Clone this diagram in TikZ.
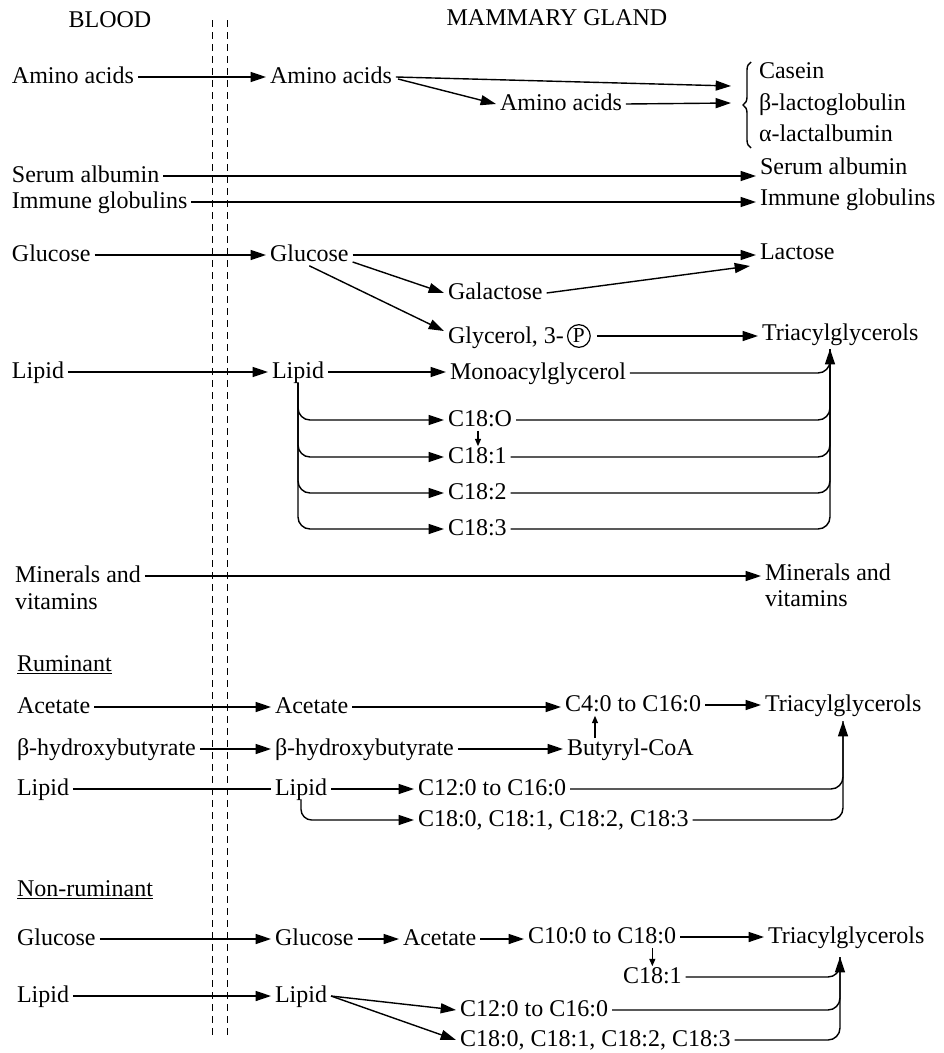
\documentclass[tikz,border=0pt]{standalone}
\usepackage{fontspec}
\setmainfont{Liberation Serif}
\usetikzlibrary{arrows.meta,calc,decorations.pathreplacing}
\begin{document}
\begin{tikzpicture}[x=0.75pt,y=-0.75pt,
  lbl/.style={anchor=west, inner xsep=3pt, inner ysep=0pt, outer sep=0pt,
    text height=12.6pt, text depth=3.6pt, font=\fontsize{18}{22}\selectfont},
  con/.style={line width=1.05pt},
  arr/.style={con, -{Triangle[length=11.5pt,width=7.5pt]}},
  tick/.style={line width=0.9pt, -{Triangle[length=5.5pt,width=4.5pt]}},
  rnd/.style={rounded corners=9pt},
  membrane/.style={line width=0.6pt, dash pattern=on 5pt off 4pt}]
\useasboundingbox (0,0) rectangle (943,1053);

% column headings and the cell membrane
\node[lbl, anchor=center] (hblood) at (110,21) {BLOOD};
\node[lbl, anchor=center] (hmg) at (557,20) {MAMMARY GLAND};
\draw[membrane] (212,20) -- (212,1035);
\draw[membrane] (227,20) -- (227,1035);

% proteins
\node[lbl] (aa1) at (8,77) {Amino acids};
\node[lbl] (aa2) at (266,77) {Amino acids};
\node[lbl] (aa3) at (496,104) {Amino acids};
\node[lbl] (cas) at (755,72) {Casein};
\node[lbl] (blg) at (755,104) {β-lactoglobulin};
\node[lbl] (alb) at (755,135) {α-lactalbumin};
\coordinate (pin1) at (731,86);
\coordinate (pin2) at (731,103);
\draw[arr] (aa1) -- (aa2);
\draw[arr] (aa2.east) -- (pin1);
\draw[arr] ($(aa2.east)+(2,2)$) -- (aa3.west);
\draw[arr] (aa3.east) -- (pin2);
\draw[con, decorate, decoration={brace, amplitude=6pt}] (751,148) -- (751,62);

\node[lbl] (sa1) at (8,176) {Serum albumin};
\node[lbl] (sa2) at (756,168) {Serum albumin};
\draw[arr] (sa1.east) -- (sa1.east -| sa2.west);
\node[lbl] (ig1) at (8,202) {Immune globulins};
\node[lbl] (ig2) at (756,199) {Immune globulins};
\draw[arr] (ig1.east) -- (ig1.east -| ig2.west);

% glucose
\node[lbl] (gl1) at (8,255) {Glucose};
\node[lbl] (gl2) at (266,255) {Glucose};
\node[lbl] (lac) at (756,253) {Lactose};
\node[lbl] (gal) at (444,293) {Galactose};
\node[lbl] (gly) at (444,337) {Glycerol, 3-};
\node[circle, draw, line width=0.9pt, inner sep=0pt, minimum size=17pt,
  font=\fontsize{16}{16}\selectfont, anchor=west] (pho) at ($(gly.east)+(-1,-1)$) {P};
\node[lbl] (tag1) at (758,334) {Triacylglycerols};
\draw[arr] (gl1) -- (gl2);
\draw[arr] (gl2.east) -- (gl2.east -| lac.west);
\draw[arr] ($(gl2.east)+(0,7)$) -- (gal.west);
\draw[arr] (gl2.south) -- ($(gly.west)+(0,-6)$);
\draw[arr] (gal.east) -- ($(lac.west)+(-6,13)$);
\draw[arr] ($(pho.east)+(6,0)$) -- (pho.east -| tag1.west);

% lipid
\node[lbl] (lp1) at (8,372) {Lipid};
\node[lbl] (lp2) at (268,372) {Lipid};
\node[lbl] (mag) at (446,373) {Monoacylglycerol};
\node[lbl] (f0) at (444,420) {C18:O};
\node[lbl] (f1) at (444,457) {C18:1};
\node[lbl] (f2) at (444,493) {C18:2};
\node[lbl] (f3) at (444,529) {C18:3};
\coordinate (tin1) at (830,349);
\draw[arr] (lp1) -- (lp2);
\draw[arr] (lp2.east) -- (lp2.east -| mag.west);
\foreach \f in {f0,f1,f2,f3} \draw[arr, rnd] (lp2.south) |- (\f.west);
\foreach \f in {mag,f0,f1,f2} \draw[con, rnd] (\f.east) -| (tin1);
\draw[arr, rnd] (f3.east) -| (tin1);
\coordinate (ft) at ($(f0.south west)+(34,0)$);
\draw[tick] (ft) -- (ft |- f1.north);

% minerals
\node[lbl] (mv1) at (11,576) {Minerals and};
\node[lbl] (mv1b) at (11,603) {vitamins};
\node[lbl] (mv2) at (761,574) {Minerals and};
\node[lbl] (mv2b) at (761,600) {vitamins};
\draw[arr] (mv1.east) -- (mv1.east -| mv2.west);

% ruminant
\node[lbl] (rum) at (13,665) {\underline{Ruminant}};
\node[lbl] (ac1) at (13,707) {Acetate};
\node[lbl] (ac2) at (271,707) {Acetate};
\node[lbl] (c4) at (561,705) {C4:0 to C16:0};
\node[lbl] (tag2) at (761,705) {Triacylglycerols};
\node[lbl] (hb1) at (13,749) {β-hydroxybutyrate};
\node[lbl] (hb2) at (271,749) {β-hydroxybutyrate};
\node[lbl] (but) at (563,749) {Butyryl-CoA};
\node[lbl] (rl1) at (13,789) {Lipid};
\node[lbl] (rl2) at (271,789) {Lipid};
\node[lbl] (c12r) at (414,789) {C12:0 to C16:0};
\node[lbl] (c18r) at (414,820) {C18:0, C18:1, C18:2, C18:3};
\coordinate (tin2) at (843,721);
\draw[arr] (ac1) -- (ac2);
\draw[arr] (ac2.east) -- (ac2.east -| c4.west);
\draw[arr] (c4) -- (tag2);
\draw[arr] (hb1) -- (hb2);
\draw[arr] (hb2) -- (but);
\coordinate (bt) at ($(but.north west)+(32,0)$);
\draw[tick] (bt) -- (bt |- c4.south);
\draw[con] (rl1) -- (rl2);
\draw[arr] (rl2) -- (c12r);
\draw[arr, rounded corners=8pt] (rl2.south) |- (c18r.west);
\draw[con, rnd] (c12r.east) -| (tin2);
\draw[arr, rnd] (c18r.east) -| (tin2);

% non-ruminant
\node[lbl] (nrum) at (13,890) {\underline{Non-ruminant}};
\node[lbl] (ng1) at (13,939) {Glucose};
\node[lbl] (ng2) at (271,939) {Glucose};
\node[lbl] (nac) at (399,939) {Acetate};
\node[lbl] (c10) at (524,937) {C10:0 to C18:0};
\node[lbl] (tag3) at (764,937) {Triacylglycerols};
\node[lbl] (n181) at (619,977) {C18:1};
\node[lbl] (nl1) at (13,996) {Lipid};
\node[lbl] (nl2) at (271,996) {Lipid};
\node[lbl] (c12n) at (456,1010) {C12:0 to C16:0};
\node[lbl] (c18n) at (456,1040) {C18:0, C18:1, C18:2, C18:3};
\coordinate (tin3) at (840,957);
\draw[arr] (ng1) -- (ng2);
\draw[arr] (ng2.east) -- (ng2.east -| nac.west);
\draw[arr] (nac.east) -- (nac.east -| c10.west);
\draw[arr] (c10) -- (tag3);
\draw[tick] (n181.north |- c10.south) -- (n181.north);
\draw[arr] (nl1) -- (nl2);
\draw[arr] (nl2.east) -- (c12n.west);
\draw[arr] (nl2.east) -- (c18n.west);
\draw[con, rnd] (n181.east) -| (tin3);
\draw[con, rnd] (c12n.east) -| (tin3);
\draw[arr, rnd] (c18n.east) -| (tin3);
\end{tikzpicture}
\end{document}
